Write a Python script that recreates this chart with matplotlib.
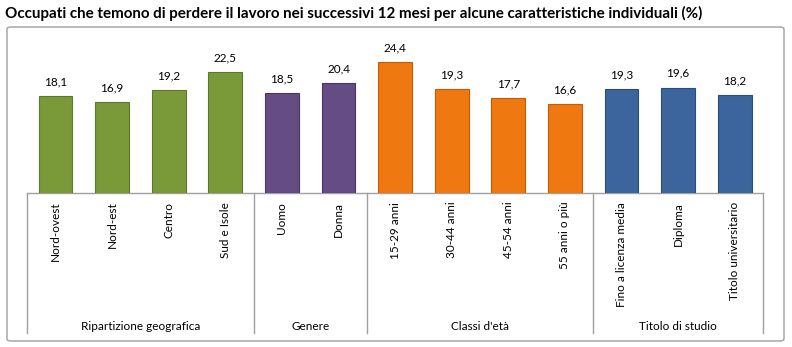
import matplotlib
matplotlib.use("Agg")
import matplotlib.pyplot as plt
from matplotlib.patches import FancyBboxPatch
import matplotlib.transforms as mtransforms

plt.rcParams['font.family'] = ['Lato', 'DejaVu Sans']

categories = ["Nord-ovest", "Nord-est", "Centro", "Sud e Isole",
              "Uomo", "Donna",
              "15-29 anni", "30-44 anni", "45-54 anni", "55 anni o più",
              "Fino a licenza media", "Diploma", "Titolo universitario"]
values = [18.1, 16.9, 19.2, 22.5, 18.5, 20.4, 24.4, 19.3, 17.7, 16.6, 19.3, 19.6, 18.2]
groups = ["Ripartizione geografica", "Genere", "Classi d'età", "Titolo di studio"]
group_sizes = [4, 2, 4, 3]
group_colors = ["#7a9a3a", "#654c85", "#f07810", "#3b659c"]
group_edges = ["#5c7a26", "#4a3566", "#c85a05", "#2a4d7c"]
title = "Occupati che temono di perdere il lavoro nei successivi 12 mesi per alcune caratteristiche individuali (%)"

W, H = 792, 347
fig = plt.figure(figsize=(W / 100, H / 100), dpi=100)

# outer frame
frame = FancyBboxPatch((7 / W, 1 - 341 / H), 777 / W, 314 / H,
                       boxstyle="round,pad=0,rounding_size=0.006",
                       transform=fig.transFigure, facecolor="white",
                       edgecolor="#a0a0a0", linewidth=1.0, zorder=-1)
fig.add_artist(frame)

fig.text(5 / W, 1 - 13 / H, title, fontsize=10.9, fontweight="bold",
         ha="left", va="center", color="#000000")

left, right = 27.2 / W, 763 / W
bottom, top = 1 - 193.3 / H, 1 - 31.4 / H
ax = fig.add_axes([left, bottom, right - left, top - bottom])
ax.patch.set_alpha(0)
ax.set_zorder(1)

colors, edges = [], []
for c, e, n in zip(group_colors, group_edges, group_sizes):
    colors += [c] * n
    edges += [e] * n

x = list(range(len(categories)))
bars = ax.bar(x, values, width=0.6, color=colors, edgecolor=edges, linewidth=0.8, zorder=3)
for xi, v in zip(x, values):
    ax.text(xi, v + 1.6, f"{v:.1f}".replace(".", ","), ha="center", va="bottom",
            fontsize=8.5, color="#000000")

ax.set_xlim(-0.5, len(categories) - 0.5)
ax.set_ylim(0, 30)
ax.set_yticks([])
ax.set_xticks(x)
ax.set_xticklabels(categories, rotation=90, fontsize=8.5, va="top", ha="center")
ax.tick_params(axis="x", length=0, pad=6)
for s in ["top", "right", "left"]:
    ax.spines[s].set_visible(False)
ax.spines["bottom"].set_color("#a0a0a0")
ax.spines["bottom"].set_linewidth(1.0)

trans = mtransforms.blended_transform_factory(ax.transData, ax.transAxes)
axh = 193.3 - 31.4
y_low = -(333 - 193.3) / axh
y_lab = -(326 - 193.3) / axh
pos = -0.5
seps = [pos]
for g, n in zip(groups, group_sizes):
    center = pos + n / 2
    ax.text(center, y_lab, g, transform=trans, ha="center", va="center", fontsize=8.5)
    pos += n
    seps.append(pos)
for s in seps:
    ax.plot([s, s], [0, y_low], transform=trans, color="#a0a0a0", lw=1.0, clip_on=False)

fig.savefig("out.png", dpi=100)
